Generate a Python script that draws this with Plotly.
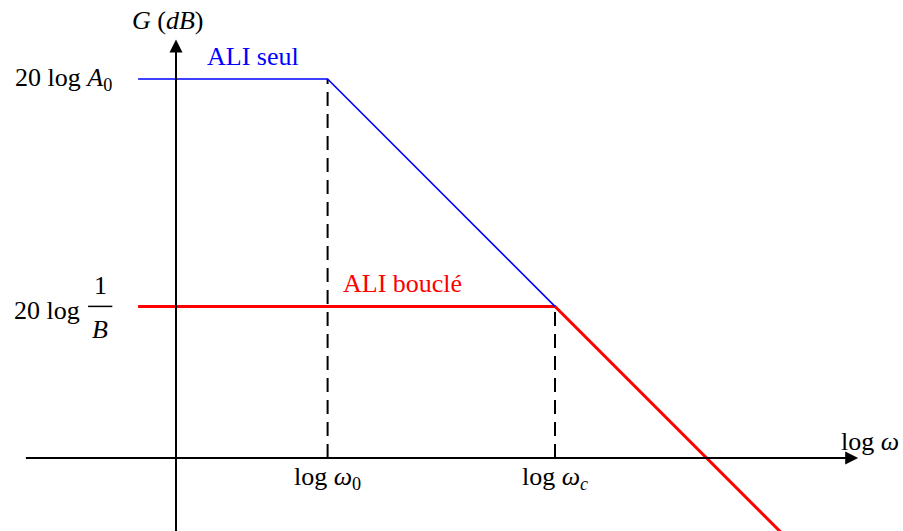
import plotly.graph_objects as go

# Asymptotic Bode gain diagram (log units)
open_loop_x = [-0.5, 2, 5]      # ALI seul
open_loop_y = [5, 5, 2]
closed_loop_x = [-0.5, 5, 8]    # ALI bouclé
closed_loop_y = [2, 2, -1]

tick_pos = [2, 5]
tick_labels = ["log <i>ω</i><sub>0</sub>", "log <i>ω</i><sub><i>c</i></sub>"]
level_a0 = 5
level_inv_b = 2

FONT = "Liberation Serif, Times New Roman, serif"
FS = 26

fig = go.Figure()

# dashed guides from the corner frequencies down to the horizontal axis
guide_dash = "14px,8px"
fig.add_trace(go.Scatter(x=[tick_pos[0], tick_pos[0]], y=[0, level_a0], mode="lines",
                         line=dict(color="black", width=2, dash=guide_dash), hoverinfo="skip"))
fig.add_trace(go.Scatter(x=[tick_pos[1], tick_pos[1]], y=[0, level_inv_b], mode="lines",
                         line=dict(color="black", width=2, dash=guide_dash), hoverinfo="skip"))

fig.add_trace(go.Scatter(x=closed_loop_x, y=closed_loop_y, mode="lines",
                         line=dict(color="#ff0000", width=3), hoverinfo="skip"))
fig.add_trace(go.Scatter(x=open_loop_x, y=open_loop_y, mode="lines",
                         line=dict(color="#0000ff", width=1.6), hoverinfo="skip"))

ann = []
# axes with arrow heads
ann.append(dict(x=9.0, y=0, ax=-2.0, ay=0, xref="x", yref="y", axref="x", ayref="y",
                showarrow=True, arrowhead=2, arrowsize=1.3, arrowwidth=2, arrowcolor="black", text=""))
ann.append(dict(x=0, y=5.52, ax=0, ay=-1.2, xref="x", yref="y", axref="x", ayref="y",
                showarrow=True, arrowhead=2, arrowsize=1.3, arrowwidth=2, arrowcolor="black", text=""))

def txt(x, y, s, color="black", xanchor="center", yanchor="middle", size=FS):
    ann.append(dict(x=x, y=y, xref="x", yref="y", text=s, showarrow=False,
                    xanchor=xanchor, yanchor=yanchor,
                    font=dict(family=FONT, size=size, color=color)))

txt(-0.11, 5.77, "<i>G</i> (<i>dB</i>)")
txt(0.38, 5.3, "ALI seul", color="#0000ff", xanchor="left")
txt(2.18, 2.3, "ALI bouclé", color="#ff0000", xanchor="left")
txt(8.75, 0.22, "log <i>ω</i>", xanchor="left")
for p, lab in zip(tick_pos, tick_labels):
    txt(p, -0.27, lab)

txt(-0.82, level_a0, "20 log <i>A</i><sub>0</sub>", xanchor="right")
txt(-1.24, level_inv_b - 0.05, "20 log", xanchor="right")
txt(-1.0, level_inv_b + 0.28, "1")
txt(-1.0, level_inv_b - 0.3, "<i>B</i>")

fig.add_shape(type="line", x0=-1.16, x1=-0.84, y0=level_inv_b, y1=level_inv_b,
              xref="x", yref="y", line=dict(color="black", width=1.5))

fig.update_layout(
    width=903, height=531, margin=dict(l=0, r=0, t=0, b=0),
    paper_bgcolor="white", plot_bgcolor="white", showlegend=False,
    font=dict(family=FONT, size=FS),
    xaxis=dict(range=[-176 / 75.8, 727 / 75.8], visible=False, fixedrange=True),
    yaxis=dict(range=[-73 / 75.8, 458 / 75.8], visible=False, fixedrange=True),
    annotations=ann,
)

fig.write_html("out.html")
